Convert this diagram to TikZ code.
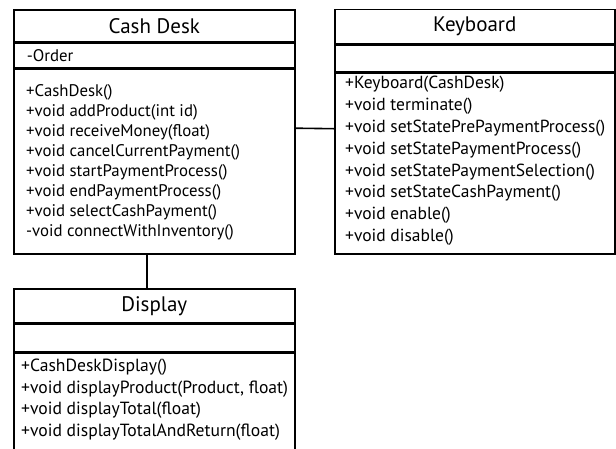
\documentclass[tikz,border=0pt]{standalone}
\usepackage{fontspec}
\setmainfont{PT Sans}
\usetikzlibrary{positioning}
\tikzset{
  umlpart/.style={draw, line width=1.6pt, inner ysep=0pt, inner xsep=#1, align=left},
  classname/.style={umlpart=0pt, align=center, font=\fontsize{21}{24}\selectfont},
  umlframe/.style={draw, line width=1.6pt, inner sep=0pt},
  oplist/.style 2 args={inner sep=0pt, align=left, anchor=north west, font=\fontsize{#1}{#2}\selectfont},
  attrtext/.style={font=\fontsize{16.8}{18}\selectfont},
  link/.style={line width=1.6pt},
}
\begin{document}
\begin{tikzpicture}[x=1pt,y=-1pt]
  \useasboundingbox (0,0) rectangle (616,448);
  \node[classname, minimum width=281pt, minimum height=32pt, anchor=north west] (cdname) at (13,9) {Cash Desk};
  \node[umlpart=13pt, attrtext, text width=255pt, minimum height=24pt, below=0pt of cdname] (cdattr) {-Order};
  \node[umlframe, minimum width=281pt, minimum height=185pt, below=0pt of cdattr] (cdops) {};
  \node[oplist={16.8}{20}] (cdopstext) at ([xshift=13pt,yshift=-16pt]cdops.north west) {+CashDesk()\\+void addProduct(int id)\\+void receiveMoney(float)\\+void cancelCurrentPayment()\\+void startPaymentProcess()\\+void endPaymentProcess()\\+void selectCashPayment()\\-void connectWithInventory()};

  \node[classname, minimum width=280pt, minimum height=34.5pt, anchor=north west] (kbname) at (334,8.5) {Keyboard};
  \node[umlpart=11pt, attrtext, text width=258pt, minimum height=26pt, below=0pt of kbname] (kbattr) {};
  \begin{scope}
    \node[umlframe, minimum width=280pt, minimum height=181pt, below=0pt of kbattr] (kbops) {};
    \clip (kbops.north west) rectangle (kbops.south east);
    \node[oplist={17.5}{21.8}] (kbopstext) at ([xshift=11pt,yshift=-4pt]kbops.north west) {+Keyboard(CashDesk)\\+void terminate()\\+void setStatePrePaymentProcess()\\+void setStatePaymentProcess()\\+void setStatePaymentSelection()\\+void setStateCashPayment()\\+void enable()\\+void disable()};
  \end{scope}

  \node[classname, minimum width=281pt, minimum height=34pt, anchor=north west] (dpname) at (13,288) {Display};
  \node[umlpart=8pt, attrtext, text width=265pt, minimum height=27pt, below=0pt of dpname] (dpattr) {};
  \begin{scope}
    \node[umlframe, minimum width=281pt, minimum height=130pt, below=0pt of dpattr] (dpops) {};
    \clip (dpops.north west) rectangle (dpops.south east);
    \node[oplist={17.6}{21.5}] (dpopstext) at ([xshift=8pt,yshift=-7pt]dpops.north west) {+CashDeskDisplay()\\+void displayProduct(Product, float)\\+void displayTotal(float)\\+void displayTotalAndReturn(float)};
  \end{scope}

  \draw[link] ([yshift=-60pt]cdops.north east) -- ([yshift=-56.5pt]kbops.north west);
  \draw[link] ([xshift=134pt]cdops.south west) -- ([xshift=134pt]dpname.north west);
\end{tikzpicture}
\end{document}
